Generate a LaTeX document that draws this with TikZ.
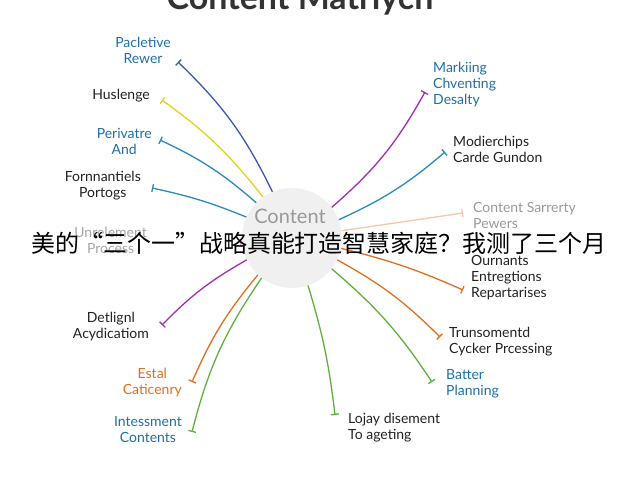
\documentclass[tikz,border=0pt]{standalone}
\usepackage{fontspec}
\setmainfont{Lato}
\newfontfamily\cjk{Noto Sans CJK SC}
\usetikzlibrary{arrows.meta}
\definecolor{cblue}{HTML}{3A5AA8}
\definecolor{cyel}{HTML}{E8D020}
\definecolor{cteal}{HTML}{2A8AB8}
\definecolor{cpurp}{HTML}{A030B0}
\definecolor{corng}{HTML}{E07020}
\definecolor{cgrn}{HTML}{60B040}
\definecolor{cpeach}{HTML}{F5C8A8}
\definecolor{cpink}{HTML}{E0A0D8}
\definecolor{tblue}{HTML}{2070A8}
\definecolor{tgray}{HTML}{222222}
\begin{document}
\begin{tikzpicture}[x=1pt,y=-1pt,
  lbl/.style={font=\fontsize{14}{16}\selectfont,inner sep=1pt},
  spoke/.style={line width=1.3pt,-{Bar[width=8pt]}}]
\useasboundingbox (0,0) rectangle (640,480);
\fill[white] (0,0) rectangle (640,480);
\node[font=\bfseries\fontsize{34}{34}\selectfont,text=black!80] (title) at (300,0) {Content Matriych};
\node[circle,fill=black!6,minimum size=100pt] (hub) at (292,238) {};
\node[font=\fontsize{20}{20}\selectfont,text=black!40] (hubtxt) at (290,216) {Content};

% spokes: name / bar end / label pos / anchor / line colour / text colour / bend / text
\foreach \n/\bx/\by/\lx/\ly/\an/\al/\lc/\tc/\bd/\t in {
  a/178/62/172/50/east/center/cblue/tblue/-10/{Pacletive\\Rewer},
  b/162/100/151/96/east/center/cyel/tgray/-8/{Huslenge},
  c/160/140/153/141/east/center/cteal/tblue/-8/{Perivatre\\And},
  d/152/188/142/186/east/center/cteal/tgray/-5/{Fornnantiels\\Portogs},
  e/240/243/148/240/east/center/cpink/black!35/0/{Unrelement\\Process},
  f/162/325/150/327/east/center/cpurp/tgray/-8/{Detlignl\\Acydicatiom},
  g/192/382/183/383/east/center/corng/corng/-8/{Estal\\Caticenry},
  h/192/432/183/430/east/center/cgrn/tblue/-10/{Intessment\\Contents},
  i/335/415/347/428/west/left/cgrn/tgray/5/{Lojay disement\\To ageting},
  j/432/382/445/384/west/left/cgrn/tblue/8/{Batter\\Planning},
  k/440/337/448/342/west/left/corng/tgray/8/{Trunsomentd\\Cycker Prcessing},
  l/463/290/470/278/west/left/corng/tgray/5/{Ournants\\Entregtions\\Repartarises},
  m/463/213/472/215/west/left/cpeach/black!40/0/{Content Sarrerty\\Pewers},
  n/445/152/452/149/west/left/cteal/tgray/-8/{Modierchips\\Carde Gundon},
  o/425/92/432/85/west/left/cpurp/tblue/-10/{Markiing\\Chventing\\Desalty}}
{
  \coordinate (end\n) at (\bx,\by);
  \node[lbl,text=\tc,anchor=\an,align=\al] (lab\n) at (\lx,\ly) {\t};
  \draw[spoke,\lc] (hub) to[bend left=\bd] (end\n);
}
\node[font=\cjk\fontsize{24}{24}\selectfont,text=black] (cap) at (319,243) {美的“三个一”战略真能打造智慧家庭？我测了三个月};
\end{tikzpicture}
\end{document}
